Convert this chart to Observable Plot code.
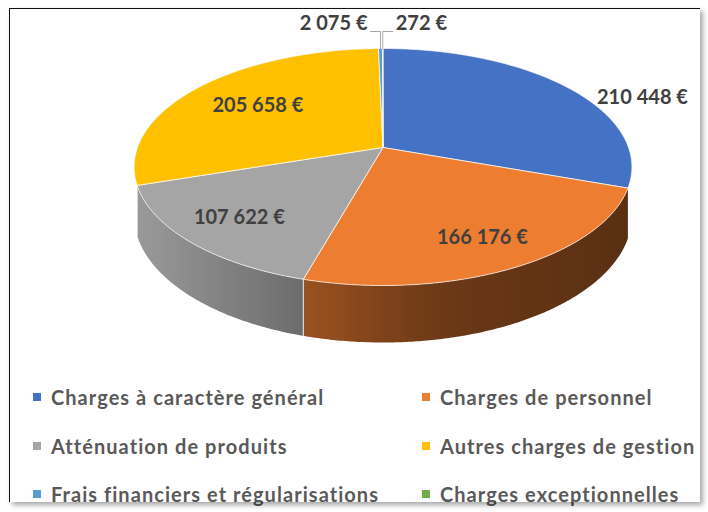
<!DOCTYPE html>
<html><head><meta charset="utf-8">
<script src="https://cdn.jsdelivr.net/npm/d3@7"></script>
<script src="https://cdn.jsdelivr.net/npm/@observablehq/plot@0.6"></script>
<style>
body{margin:0;background:#fff;width:708px;height:512px;overflow:hidden;position:relative;font-family:Lato,"Open Sans",sans-serif;}
#frame{position:absolute;left:9px;top:8px;width:690px;height:493px;border-top:1px solid #111;border-left:1px solid #111;box-shadow:3px 3px 5px rgba(0,0,0,.35);pointer-events:none;}
#chart{position:absolute;left:0;top:0;}
.item{position:absolute;height:24px;line-height:24px;display:flex;align-items:center;font-size:20px;font-weight:700;color:#595959;white-space:nowrap;letter-spacing:1.05px;}
.sw{width:8px;height:8px;flex:none;}
</style></head><body>
<div id="chart"></div><div id="legend"></div><div id="frame"></div>
<script>
// ---- data ----
const categories = [
  "Charges à caractère général",
  "Charges de personnel",
  "Atténuation de produits",
  "Autres charges de gestion",
  "Frais financiers et régularisations",
  "Charges exceptionnelles"
];
const values = [210448, 166176, 107622, 205658, 2075, 272];
const colors = ["#4472C4", "#ED7D31", "#A5A5A5", "#FFC000", "#5B9BD5", "#70AD47"];

// ---- geometry (3D perspective pie) ----
const CX = 382.5, CY = 147, RX = 245.5, RY = 115.3, K = -0.1646, DEPTH = 0.413;
function proj(theta, r = 1, z = 0) {
  const u = r * Math.sin(theta), v = -r * Math.cos(theta), den = 1 + K * v;
  return {x: u / den, y: (v + z) / den};
}
function samples(a0, a1, step) {
  const n = Math.max(1, Math.ceil((a1 - a0) / step));
  return d3.range(n + 1).map(i => a0 + (a1 - a0) * i / n);
}
const arcs = d3.pie().sort(null).value(d => d)(values);
const total = d3.sum(values);

// top faces
const topFaces = arcs.flatMap((a, i) => [
  {key: i, ...proj(0, 0)},
  ...samples(a.startAngle, a.endAngle, Math.PI / 720).map(t => ({key: i, ...proj(t)})),
  {key: i, ...proj(0, 0)}
]);

// side walls (front part only)
const T0 = Math.acos(-0.30), T1 = 2 * Math.PI - T0;
const shade = d3.scaleLinear().domain([-1, -0.27, 0.25, 1]).range([0.93, 0.63, 0.45, 0.38]);
const wallMarks = [];
const wallIds = [];
const seams = [];
arcs.forEach((a, i) => {
  const s = Math.max(a.startAngle, T0), e = Math.min(a.endAngle, T1);
  if (e - s < Math.PI / 90) return;
  const ts = samples(s, e, Math.PI / 360);
  const pts = [...ts.map(t => proj(t)), ...ts.slice().reverse().map(t => proj(t, 1, DEPTH))];
  pts.push(pts[0]);
  wallIds.push(i);
  wallMarks.push(Plot.line(pts, {x: "x", y: "y", fill: `url(#wall${i})`, stroke: "none", curve: "linear"}));
  if (a.endAngle > T0 && a.endAngle < T1) {
    const p = proj(a.endAngle), q = proj(a.endAngle, 1, DEPTH);
    seams.push({x1: p.x, y1: p.y, x2: q.x, y2: q.y});
  }
});
// gradient definitions for the shaded walls (light from the left)
function wallGradients(index, scales) {
  const defs = d3.create("svg:defs");
  wallIds.forEach(i => {
    const c = d3.rgb(colors[i]);
    const g = defs.append("linearGradient").attr("id", `wall${i}`)
      .attr("gradientUnits", "userSpaceOnUse")
      .attr("x1", scales.x(-1)).attr("x2", scales.x(1)).attr("y1", 0).attr("y2", 0);
    d3.range(0, 21).forEach(k => {
      const t = k / 20, f = shade(-1 + 2 * t);
      g.append("stop").attr("offset", t).attr("stop-color", d3.rgb(c.r * f, c.g * f, c.b * f).formatHex());
    });
  });
  return defs.node();
}

// labels
const fmt = d3.formatLocale({decimal: ",", thousands: "\u00a0", grouping: [3], currency: ["", "\u00a0€"]}).format("$,.0f");
const outside = new Set([0]);
const inside = [], outer = [], leaderLabelsL = [], leaderLabelsR = [], leaders = [];
let tinyCount = 0;
arcs.forEach((a, i) => {
  const mid = (a.startAngle + a.endAngle) / 2;
  const text = fmt(values[i]);
  if (values[i] / total < 0.01) {
    const p = proj(mid);
    const yTop = p.y - 17 / RY;
    const left = tinyCount++ % 2 === 0;
    const xEnd = p.x + (left ? -10 : 10) / RX;
    leaders.push({key: i, x: p.x, y: p.y}, {key: i, x: p.x, y: yTop}, {key: i, x: xEnd, y: yTop});
    (left ? leaderLabelsL : leaderLabelsR).push({x: xEnd, y: yTop, text});
  } else if (outside.has(i)) {
    outer.push({...proj(mid), text});
  } else {
    const r = 0.71 + 0.08 * (-Math.cos(mid));
    inside.push({...proj(mid, r), text});
  }
});

const textStyle = {fontSize: 20, fontWeight: "bold", fill: "#404040", fontFamily: "Lato"};
const chart = Plot.plot({
  width: 708, height: 360, margin: 0,
  x: {domain: [-1, 1], range: [CX - RX, CX + RX], axis: null},
  y: {domain: [-1, 1], range: [CY - RY, CY + RY], axis: null},
  style: {background: "transparent", fontFamily: "Lato"},
  marks: [
    wallGradients,
    ...wallMarks,
    Plot.link(seams, {x1: "x1", y1: "y1", x2: "x2", y2: "y2", stroke: "#ffffff", strokeWidth: 1, strokeOpacity: 0.85}),
    ...arcs.map((a, i) => Plot.line(topFaces.filter(d => d.key === i), {x: "x", y: "y", fill: colors[i], stroke: "#ffffff", strokeWidth: 0.8, strokeOpacity: 0.9, curve: "linear"})),
    Plot.line(leaders, {x: "x", y: "y", z: "key", stroke: "#a6a6a6", strokeWidth: 1}),
    Plot.text(inside, {x: "x", y: "y", text: "text", textAnchor: "middle", lineAnchor: "middle", ...textStyle}),
    Plot.text(outer, {x: "x", y: "y", text: "text", textAnchor: "start", lineAnchor: "middle", dx: 31, dy: 11, ...textStyle}),
    Plot.text(leaderLabelsL, {x: "x", y: "y", text: "text", textAnchor: "end", lineAnchor: "middle", dx: -3, dy: -8, ...textStyle}),
    Plot.text(leaderLabelsR, {x: "x", y: "y", text: "text", textAnchor: "start", lineAnchor: "middle", dx: 3, dy: -8, ...textStyle})
  ]
});
document.getElementById("chart").appendChild(chart);

// legend (below the plot)
const legend = document.getElementById("legend");
const colX = [33, 422], rowBase = [405, 454, 502];
categories.forEach((name, i) => {
  const col = i % 2, row = Math.floor(i / 2);
  const it = document.createElement("div");
  it.className = "item";
  it.style.left = colX[col] + "px";
  it.style.top = (rowBase[row] - 20) + "px";
  const sw = document.createElement("span");
  sw.className = "sw"; sw.style.background = colors[i];
  const tx = document.createElement("span");
  tx.textContent = name; tx.style.marginLeft = "10px";
  it.appendChild(sw); it.appendChild(tx);
  legend.appendChild(it);
});
</script>
</body></html>
